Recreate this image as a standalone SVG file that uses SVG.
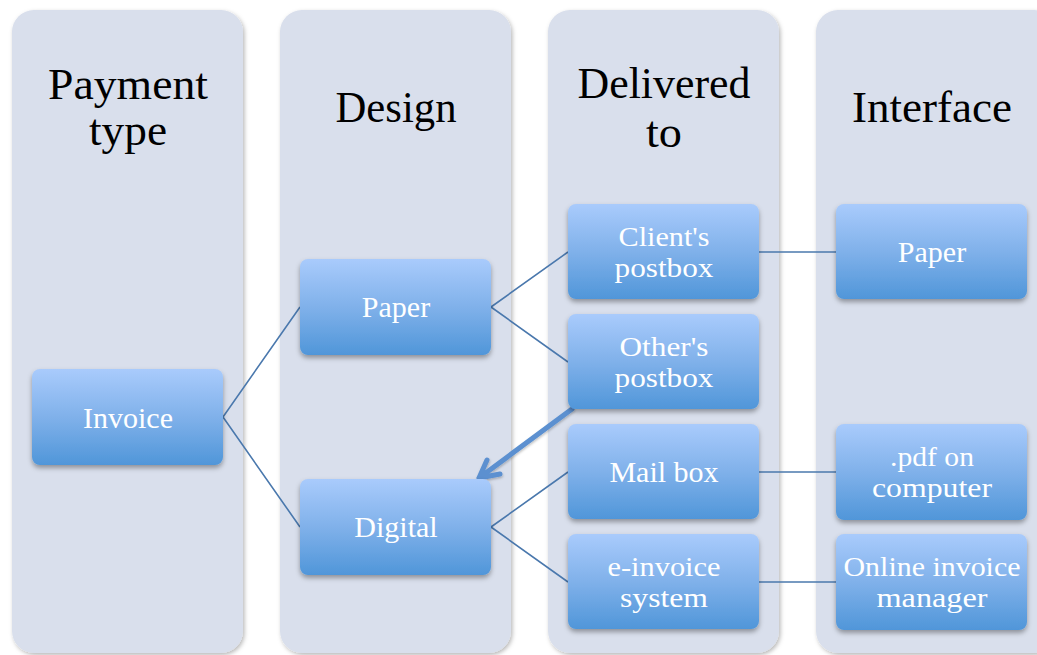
<svg xmlns="http://www.w3.org/2000/svg" width="1037" height="655" viewBox="0 0 1037 655">
  <defs>
    <linearGradient id="nodeFill" x1="0" y1="0" x2="0" y2="1">
      <stop offset="0" stop-color="#a9cbfc"/>
      <stop offset="0.5" stop-color="#80b1ea"/>
      <stop offset="1" stop-color="#5096d9"/>
    </linearGradient>
    <filter id="laneShadow" x="-10%" y="-5%" width="120%" height="110%">
      <feDropShadow dx="1.5" dy="2" stdDeviation="2" flood-color="#000" flood-opacity="0.28"/>
    </filter>
    <filter id="nodeShadow" x="-10%" y="-10%" width="120%" height="130%">
      <feDropShadow dx="0" dy="3" stdDeviation="2.5" flood-color="#000" flood-opacity="0.35"/>
    </filter>
    <filter id="arrowShadow" x="-20%" y="-20%" width="140%" height="140%">
      <feDropShadow dx="0.5" dy="1.5" stdDeviation="1.2" flood-color="#000" flood-opacity="0.25"/>
    </filter>
  </defs>
  <style>
    .lane { fill: #d9dfec; filter: url(#laneShadow); }
    .title { font-family: "Liberation Serif", "Times New Roman", serif; font-size: 44px; fill: #000; text-anchor: middle; }
    .box { fill: url(#nodeFill); filter: url(#nodeShadow); }
    .label { font-family: "Liberation Serif", "Times New Roman", serif; font-size: 30px; fill: #fff; text-anchor: middle; }
    .label2 { font-family: "Liberation Serif", "Times New Roman", serif; font-size: 27.5px; fill: #fff; text-anchor: middle; }
    .link { stroke: #4a78ad; stroke-width: 1.6; fill: none; }
    .back { stroke: #5b90d0; stroke-width: 5; fill: none; stroke-linecap: round; stroke-linejoin: round; filter: url(#arrowShadow); }
  </style>

  <rect width="1037" height="655" fill="#fff"/>

  <!-- swimlanes -->
  <g id="lane-payment">
    <rect class="lane" x="12" y="10" width="231" height="643" rx="22"/>
    <text class="title" x="128" y="99" textLength="160" lengthAdjust="spacingAndGlyphs">Payment</text>
    <text class="title" x="128" y="145" textLength="78" lengthAdjust="spacingAndGlyphs">type</text>
  </g>
  <g id="lane-design">
    <rect class="lane" x="280" y="10" width="231" height="643" rx="22"/>
    <text class="title" x="396" y="122" textLength="121" lengthAdjust="spacingAndGlyphs">Design</text>
  </g>
  <g id="lane-delivered">
    <rect class="lane" x="548" y="10" width="231" height="643" rx="22"/>
    <text class="title" x="664" y="98" textLength="173" lengthAdjust="spacingAndGlyphs">Delivered</text>
    <text class="title" x="664" y="147" textLength="36" lengthAdjust="spacingAndGlyphs">to</text>
  </g>
  <g id="lane-interface">
    <rect class="lane" x="816" y="10" width="240" height="643" rx="22"/>
    <text class="title" x="932" y="122" textLength="160" lengthAdjust="spacingAndGlyphs">Interface</text>
  </g>

  <!-- connectors -->
  <g id="connectors">
    <path class="link" d="M223 417 L300 307 M223 417 L300 527"/>
    <path class="link" d="M491 307 L568 252 M491 307 L568 362"/>
    <path class="link" d="M491 527 L568 472 M491 527 L568 582"/>
    <path class="link" d="M759 252 L836 252"/>
    <path class="link" d="M759 472 L836 472"/>
    <path class="link" d="M759 582 L836 582"/>
    <path class="back" d="M572 409 L479 478 M487 460 L479 478 L500 474"/>
  </g>

  <!-- nodes -->
  <g id="node-invoice">
    <rect class="box" x="32" y="369" width="191" height="96" rx="8"/>
    <text class="label" x="128" y="428">Invoice</text>
  </g>
  <g id="node-paper">
    <rect class="box" x="300" y="259" width="191" height="96" rx="8"/>
    <text class="label" x="396" y="317">Paper</text>
  </g>
  <g id="node-digital">
    <rect class="box" x="300" y="479" width="191" height="96" rx="8"/>
    <text class="label" x="396" y="537">Digital</text>
  </g>
  <g id="node-clients-postbox">
    <rect class="box" x="568" y="204" width="191" height="95" rx="8"/>
    <text class="label2" x="664" y="246" textLength="91" lengthAdjust="spacingAndGlyphs">Client's</text>
    <text class="label2" x="664" y="276.5" textLength="99" lengthAdjust="spacingAndGlyphs">postbox</text>
  </g>
  <g id="node-others-postbox">
    <rect class="box" x="568" y="314" width="191" height="95" rx="8"/>
    <text class="label2" x="664" y="356" textLength="89" lengthAdjust="spacingAndGlyphs">Other's</text>
    <text class="label2" x="664" y="386.5" textLength="99" lengthAdjust="spacingAndGlyphs">postbox</text>
  </g>
  <g id="node-mail-box">
    <rect class="box" x="568" y="424" width="191" height="95" rx="8"/>
    <text class="label" x="664" y="482">Mail box</text>
  </g>
  <g id="node-e-invoice-system">
    <rect class="box" x="568" y="534" width="191" height="95" rx="8"/>
    <text class="label2" x="664" y="576" textLength="113" lengthAdjust="spacingAndGlyphs">e-invoice</text>
    <text class="label2" x="664" y="606.5" textLength="88" lengthAdjust="spacingAndGlyphs">system</text>
  </g>
  <g id="node-paper-interface">
    <rect class="box" x="836" y="204" width="191" height="95" rx="8"/>
    <text class="label" x="932" y="262">Paper</text>
  </g>
  <g id="node-pdf-on-computer">
    <rect class="box" x="836" y="424" width="191" height="96" rx="8"/>
    <text class="label2" x="932" y="466" textLength="84" lengthAdjust="spacingAndGlyphs">.pdf on</text>
    <text class="label2" x="932" y="496.5" textLength="120" lengthAdjust="spacingAndGlyphs">computer</text>
  </g>
  <g id="node-online-invoice-manager">
    <rect class="box" x="836" y="534" width="191" height="96" rx="8"/>
    <text class="label2" x="932" y="576" textLength="177" lengthAdjust="spacingAndGlyphs">Online invoice</text>
    <text class="label2" x="932" y="606.5" textLength="111" lengthAdjust="spacingAndGlyphs">manager</text>
  </g>
</svg>
